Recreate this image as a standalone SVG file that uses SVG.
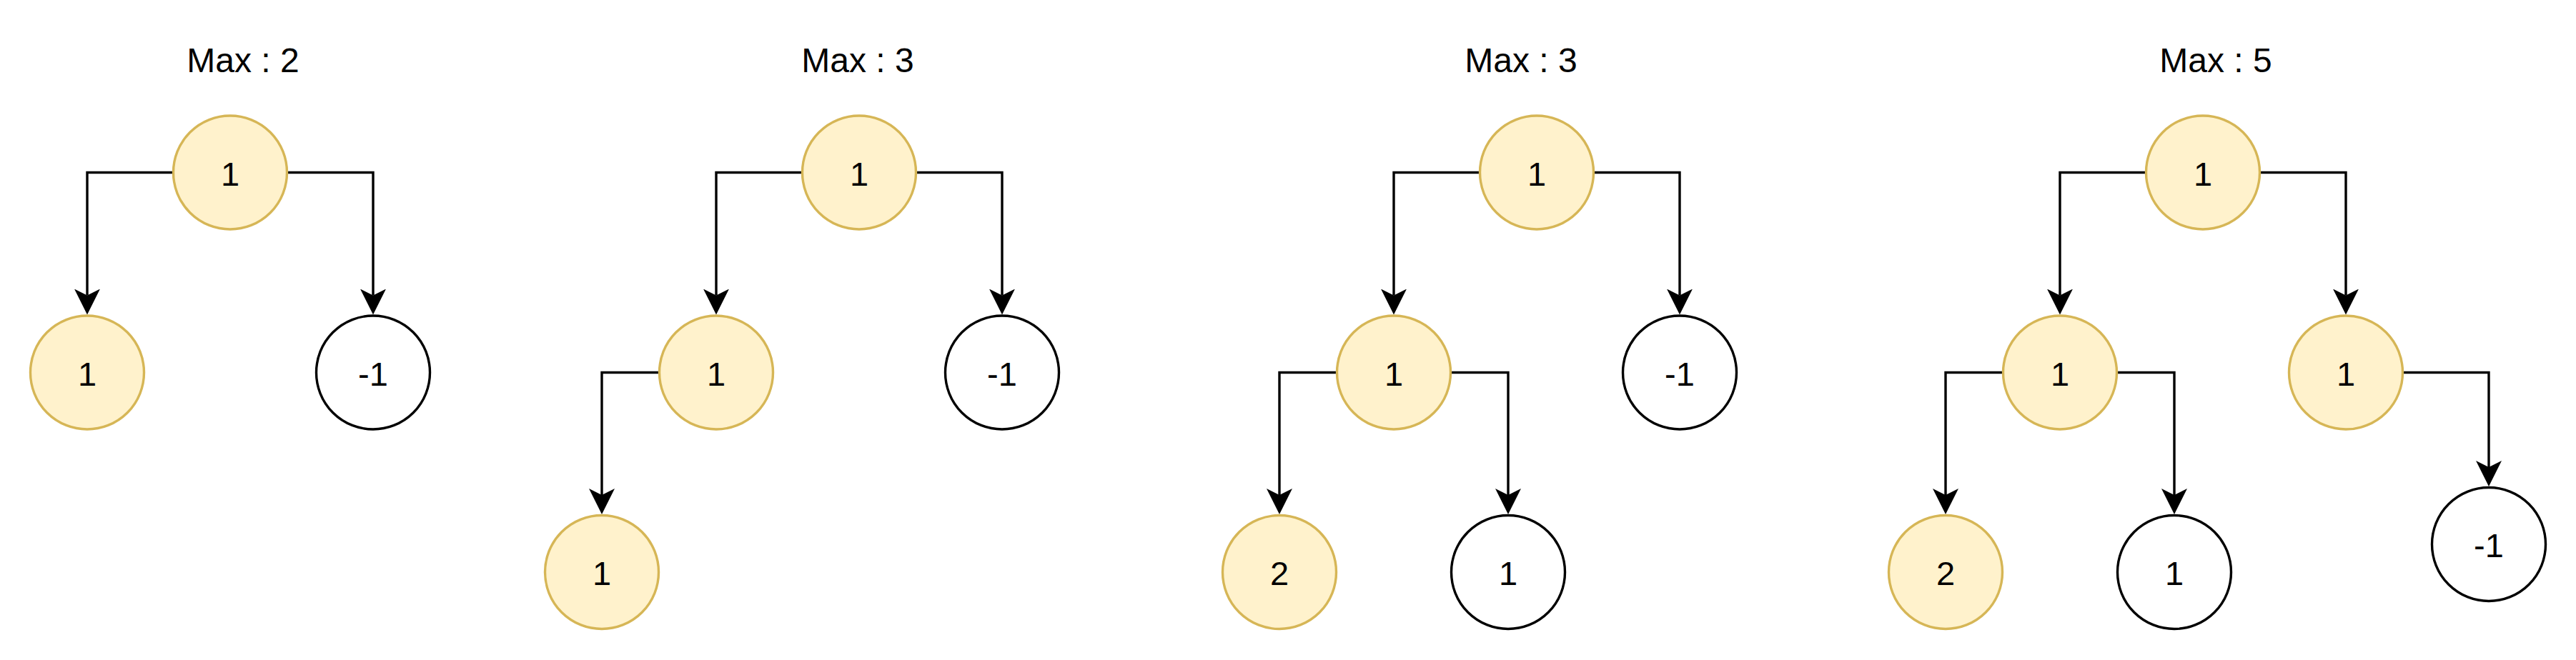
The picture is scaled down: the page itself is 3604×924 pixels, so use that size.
<svg xmlns="http://www.w3.org/2000/svg" width="3604" height="924" viewBox="0 0 3604 924">
<style>
.y{fill:#fff2cc;stroke:#d6b656;stroke-width:3.4}
.w{fill:#ffffff;stroke:#000000;stroke-width:3.4}
.t{font-family:"Liberation Sans",Arial,sans-serif;font-size:47px;fill:#000;text-anchor:middle}
.h{font-family:"Liberation Sans",Arial,sans-serif;font-size:48px;fill:#000;text-anchor:middle}
.c{fill:none;stroke:#000;stroke-width:3.4}
</style>
<defs>
<marker id="ah" viewBox="0 0 36 36" refX="9" refY="18" markerWidth="36" markerHeight="36" markerUnits="userSpaceOnUse" orient="auto">
<path d="M0,0 L36,18 L0,36 L9,18 Z" fill="#000"/>
</marker>
</defs>
<rect width="3604" height="924" fill="#ffffff"/>
<g id="connectors">
<path class="c" marker-end="url(#ah)" d="M241,241.5 H122 V413.5"/>
<path class="c" marker-end="url(#ah)" d="M403,241.5 H522 V413.5"/>
<path class="c" marker-end="url(#ah)" d="M1121,241.5 H1002 V413.5"/>
<path class="c" marker-end="url(#ah)" d="M1283,241.5 H1402 V413.5"/>
<path class="c" marker-end="url(#ah)" d="M921,521.5 H842 V693"/>
<path class="c" marker-end="url(#ah)" d="M2069,241.5 H1950 V413.5"/>
<path class="c" marker-end="url(#ah)" d="M2231,241.5 H2350 V413.5"/>
<path class="c" marker-end="url(#ah)" d="M1869,521.5 H1790 V693"/>
<path class="c" marker-end="url(#ah)" d="M2031,521.5 H2110 V693"/>
<path class="c" marker-end="url(#ah)" d="M3001,241.5 H2882 V413.5"/>
<path class="c" marker-end="url(#ah)" d="M3163,241.5 H3282 V413.5"/>
<path class="c" marker-end="url(#ah)" d="M2801,521.5 H2722 V693"/>
<path class="c" marker-end="url(#ah)" d="M2963,521.5 H3042 V693"/>
<path class="c" marker-end="url(#ah)" d="M3363,521.5 H3482 V654"/>
</g>
<g id="title1"><text class="h" x="340" y="100.5">Max : 2</text></g>
<g id="title2"><text class="h" x="1200" y="100.5">Max : 3</text></g>
<g id="title3"><text class="h" x="2128" y="100.5">Max : 3</text></g>
<g id="title4"><text class="h" x="3100" y="100.5">Max : 5</text></g>
<g id="t1-root"><circle class="y" cx="322" cy="241.5" r="79.5"/><text class="t" x="322" y="259.5">1</text></g>
<g id="t1-l"><circle class="y" cx="122" cy="521.5" r="79.5"/><text class="t" x="122" y="539.5">1</text></g>
<g id="t1-r"><circle class="w" cx="522" cy="521.5" r="79.5"/><text class="t" x="522" y="539.5">-1</text></g>
<g id="t2-root"><circle class="y" cx="1202" cy="241.5" r="79.5"/><text class="t" x="1202" y="259.5">1</text></g>
<g id="t2-l"><circle class="y" cx="1002" cy="521.5" r="79.5"/><text class="t" x="1002" y="539.5">1</text></g>
<g id="t2-r"><circle class="w" cx="1402" cy="521.5" r="79.5"/><text class="t" x="1402" y="539.5">-1</text></g>
<g id="t2-ll"><circle class="y" cx="842" cy="801" r="79.5"/><text class="t" x="842" y="819">1</text></g>
<g id="t3-root"><circle class="y" cx="2150" cy="241.5" r="79.5"/><text class="t" x="2150" y="259.5">1</text></g>
<g id="t3-l"><circle class="y" cx="1950" cy="521.5" r="79.5"/><text class="t" x="1950" y="539.5">1</text></g>
<g id="t3-r"><circle class="w" cx="2350" cy="521.5" r="79.5"/><text class="t" x="2350" y="539.5">-1</text></g>
<g id="t3-ll"><circle class="y" cx="1790" cy="801" r="79.5"/><text class="t" x="1790" y="819">2</text></g>
<g id="t3-lr"><circle class="w" cx="2110" cy="801" r="79.5"/><text class="t" x="2110" y="819">1</text></g>
<g id="t4-root"><circle class="y" cx="3082" cy="241.5" r="79.5"/><text class="t" x="3082" y="259.5">1</text></g>
<g id="t4-l"><circle class="y" cx="2882" cy="521.5" r="79.5"/><text class="t" x="2882" y="539.5">1</text></g>
<g id="t4-r"><circle class="y" cx="3282" cy="521.5" r="79.5"/><text class="t" x="3282" y="539.5">1</text></g>
<g id="t4-ll"><circle class="y" cx="2722" cy="801" r="79.5"/><text class="t" x="2722" y="819">2</text></g>
<g id="t4-lr"><circle class="w" cx="3042" cy="801" r="79.5"/><text class="t" x="3042" y="819">1</text></g>
<g id="t4-rr"><circle class="w" cx="3482" cy="762" r="79.5"/><text class="t" x="3482" y="780">-1</text></g>
</svg>
